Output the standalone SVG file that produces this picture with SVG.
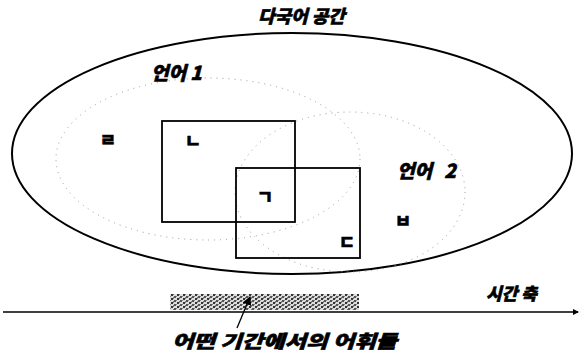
<svg xmlns="http://www.w3.org/2000/svg" width="579" height="359" viewBox="0 0 579 359">
<defs>
<style>
.lbl{font-family:"Noto Sans CJK KR","Noto Sans",sans-serif;font-weight:900;font-style:italic;fill:#000;stroke:#000;stroke-width:0.6}
.jamo{font-family:"Noto Sans CJK KR",sans-serif;font-weight:900;font-size:18px;fill:#000;stroke:#000;stroke-width:0.5;text-anchor:middle}
.box{fill:none;stroke:#000;stroke-width:1.8}
.dot{fill:none;stroke:#9a9a9a;stroke-width:1;stroke-dasharray:1 5}
</style>
<pattern id="hatch" width="6" height="4" patternUnits="userSpaceOnUse">
<rect width="6" height="4" fill="#ddd"/>
<rect x="0" y="0" width="2" height="2" fill="#555"/>
<rect x="3" y="2" width="2" height="2" fill="#333"/>
<rect x="2" y="0" width="1" height="1" fill="#888"/>
<rect x="5" y="1" width="1" height="2" fill="#777"/>
</pattern>
<marker id="ah" viewBox="0 0 6 6" refX="5" refY="3" markerWidth="6" markerHeight="6" orient="auto" markerUnits="userSpaceOnUse">
<path d="M0,0 L6,3 L0,6 z" fill="#000"/>
</marker>
<marker id="ah2" viewBox="0 0 8 8" refX="7" refY="4" markerWidth="9" markerHeight="9" orient="auto" markerUnits="userSpaceOnUse">
<path d="M0,0 L8,4 L0,8 z" fill="#000"/>
</marker>
</defs>
<rect width="579" height="359" fill="#fff"/>

<g id="space">
<ellipse cx="292" cy="153.5" rx="280" ry="120.5" fill="none" stroke="#000" stroke-width="2"/>
<text class="lbl" x="258" y="23" font-size="18">다국어 공간</text>
</g>

<g id="lang1">
<ellipse class="dot" cx="208" cy="159" rx="152" ry="81"/>
<text class="lbl" x="151" y="80" font-size="19">언어 1</text>
</g>

<g id="lang2">
<ellipse class="dot" cx="350" cy="192" rx="115" ry="80"/>
<text class="lbl" x="397" y="178" font-size="19" word-spacing="8">언어 2</text>
</g>

<g id="box1"><rect class="box" x="162" y="121" width="133" height="101"/></g>
<g id="box2"><rect class="box" x="236" y="168" width="124" height="90"/></g>

<g id="jamo">
<text class="jamo" x="108" y="147">ㄹ</text>
<text class="jamo" x="193" y="148">ㄴ</text>
<text class="jamo" x="265" y="204">ㄱ</text>
<text class="jamo" x="347" y="249">ㄷ</text>
<text class="jamo" x="403" y="228">ㅂ</text>
</g>

<g id="period">
<rect x="170" y="294" width="189" height="16" fill="url(#hatch)"/>
<text class="lbl" x="172" y="348" font-size="18" stroke-width="0.4" textLength="225" lengthAdjust="spacingAndGlyphs">어떤 기간에서의 어휘들</text>
</g>

<g id="axis">
<text class="lbl" x="486" y="300" font-size="17">시간 축</text>
</g>

<g id="connectors">
<line x1="3" y1="312" x2="578" y2="312" stroke="#000" stroke-width="1.5" marker-end="url(#ah)"/>
<line x1="237" y1="328" x2="250" y2="297" stroke="#000" stroke-width="1.3" marker-end="url(#ah2)"/>
</g>
</svg>
